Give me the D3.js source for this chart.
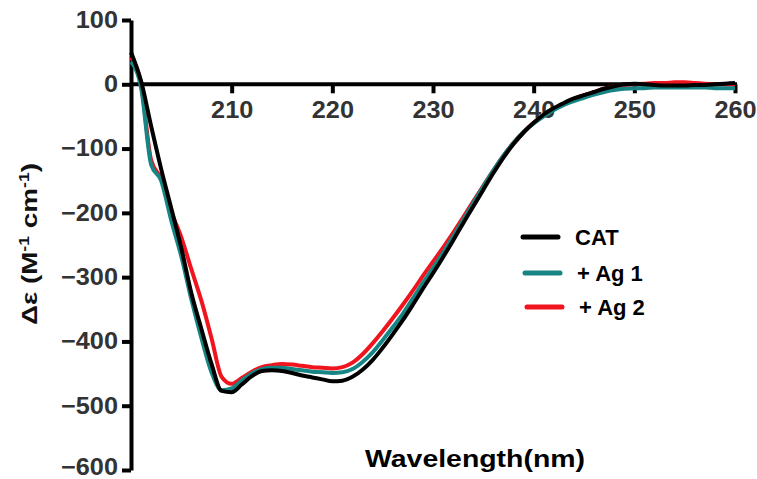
<!DOCTYPE html>
<html>
<head>
<meta charset="utf-8">
<script src="https://cdn.jsdelivr.net/npm/d3@7"></script>
<style>
  body { margin: 0; background: #fff; }
  text { font-family: "Liberation Sans", Arial, sans-serif; font-weight: 700; }
</style>
</head>
<body>
<div id="chart"></div>
<script>
const width = 757
const height = 479

// wavelength (nm), 1 nm steps
const wavelengths = [200,201,202,203,204,205,206,207,208,209,210,211,212,213,214,215,216,217,218,219,
  220,221,222,223,224,225,226,227,228,229,230,231,232,233,234,235,236,237,238,239,
  240,241,242,243,244,245,246,247,248,249,250,251,252,253,254,255,256,257,258,259,260]

const cat = [50,5,-65,-132,-193,-255,-325,-381,-435,-477,-479,-467,-454,-446,-445,-446,-449,-453,-456,-459,
  -462,-461,-455,-444,-429,-410,-389,-367,-343,-318,-294,-269,-243,-216,-190,-164,-138,-114,-93,-75,
  -60,-47,-37,-29,-22,-17,-12,-7,-3,0,1,0,-1,-2,-2,-2,-1,-1,0,1,2]

const ag1 = [35,-5,-125,-150,-212,-268,-335,-395,-448,-476,-473,-461,-450,-443,-441,-441,-443,-445,-447,-448,
  -449,-448,-443,-432,-417,-398,-378,-357,-333,-309,-286,-262,-237,-211,-185,-159,-134,-111,-91,-74,
  -61,-50,-40,-32,-26,-21,-16,-12,-9,-7,-6,-6,-5,-5,-5,-5,-5,-5,-6,-6,-6]

const ag2 = [42,0,-118,-147,-198,-238,-288,-337,-395,-455,-466,-457,-447,-440,-437,-435,-436,-438,-440,-441,
  -442,-440,-433,-420,-403,-384,-364,-343,-321,-298,-276,-254,-231,-207,-182,-158,-134,-111,-91,-74,
  -60,-48,-38,-30,-23,-17,-12,-7,-3,-1,0,1,2,2,3,3,2,1,0,0,0]

const seriesNames = ["CAT", "+ Ag 1", "+ Ag 2"]
const seriesColors = ["#000000", "#168584", "#f0141e"]
const yTicks = [100,0,-100,-200,-300,-400,-500,-600]
const xTicks = [210,220,230,240,250,260]

const svg = d3.select("div#chart").append("svg").attr("width", width).attr("height", height)

const x = d3.scaleLinear().domain([200, 260]).range([131, 735])
const y = d3.scaleLinear().domain([-600, 100]).range([470, 20])

// axes
const yAxisGroup = svg.append("g").attr("transform", `translate(${x(200)},0)`)
    .call(d3.axisLeft(y).tickValues(yTicks).tickSize(9).tickSizeOuter(0).tickPadding(4))
const xAxisGroup = svg.append("g").attr("transform", `translate(0,${y(0)})`)
    .call(d3.axisBottom(x).tickValues(xTicks).tickSize(9).tickSizeOuter(0).tickPadding(8))

svg.selectAll(".domain").attr("stroke", "#000").attr("stroke-width", 4)
svg.selectAll(".tick line").attr("stroke", "#000").attr("stroke-width", 4)
svg.selectAll(".tick text").attr("fill", "#333").style("font-size", "23px")
    .style("font-family", "'Liberation Sans', Arial, sans-serif").style("font-weight", 700)
    .each(function() {
        // the reference digits are a bit wider than Arial
        const w = this.getComputedTextLength()
        d3.select(this).attr("textLength", w * 1.1).attr("lengthAdjust", "spacingAndGlyphs")
    })
// bottom label sits right on the edge, lift it a touch so it is not clipped
yAxisGroup.selectAll(".tick").filter(d => d === -600).select("text").attr("dy", "0.2em")
xAxisGroup.select(".domain").attr("d", `M${x(200)},0H${x(260) + 2}`)

// curves
const series = [ag2, ag1, cat]
const colorsDrawn = [seriesColors[2], seriesColors[1], seriesColors[0]]
const line = d3.line().x((d, i) => x(wavelengths[i])).y(d => y(d)).curve(d3.curveMonotoneX)

series.forEach((s, k) => {
    svg.append("path").datum(s)
        .attr("fill", "none")
        .attr("stroke", colorsDrawn[k])
        .attr("stroke-width", 4)
        .attr("stroke-linejoin", "round")
        .attr("d", line)
})

// axis titles
svg.append("text").text("Wavelength(nm)")
    .attr("x", 365).attr("y", 467)
    .attr("textLength", 220).attr("lengthAdjust", "spacingAndGlyphs")
    .style("font-size", "23px").attr("fill", "#000")

const yLabel = svg.append("text")
    .attr("transform", "translate(37,244) rotate(-90)")
    .attr("text-anchor", "middle")
    .attr("textLength", 162).attr("lengthAdjust", "spacingAndGlyphs")
    .style("font-size", "22px").attr("fill", "#111")
yLabel.append("tspan").text("\u0394\u03b5 (M")
yLabel.append("tspan").text("-1").attr("baseline-shift", "super").style("font-size", "14px")
yLabel.append("tspan").text(" cm")
yLabel.append("tspan").text("-1").attr("baseline-shift", "super").style("font-size", "14px")
yLabel.append("tspan").text(")")

// legend
const legendY = [237, 273, 307]
const legendX = [523, 525, 527]
const legendTextX = [575, 577, 579]
seriesNames.forEach((name, i) => {
    svg.append("line")
        .attr("x1", legendX[i]).attr("x2", legendX[i] + 35)
        .attr("y1", legendY[i]).attr("y2", legendY[i])
        .attr("stroke", seriesColors[i]).attr("stroke-width", 5).attr("stroke-linecap", "round")
    svg.append("text").text(name)
        .attr("x", legendTextX[i]).attr("y", legendY[i] + 8)
        .style("font-size", "22px").attr("fill", "#000")
})
</script>
</body>
</html>
